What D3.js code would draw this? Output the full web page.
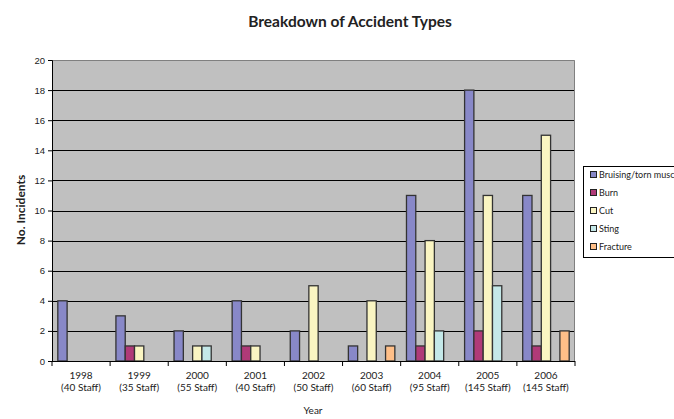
<!DOCTYPE html>
<html>
<head>
<meta charset="utf-8">
<script src="https://cdn.jsdelivr.net/npm/d3@7"></script>
<style>
  body { margin: 0; background: #fff; }
  svg { display: block; font-family: Lato, "Open Sans", sans-serif; }
</style>
</head>
<body>
<div id="chart"></div>
<script>
// chart values
const years = ['1998', '1999', '2000', '2001', '2002', '2003', '2004', '2005', '2006'];
const staff = ['(40 Staff)', '(35 Staff)', '(55 Staff)', '(40 Staff)', '(50 Staff)', '(60 Staff)', '(95 Staff)', '(145 Staff)', '(145 Staff)'];
const seriesNames = ['Bruising/torn muscle', 'Burn', 'Cut', 'Sting', 'Fracture'];
const bruising = [4, 3, 2, 4, 2, 1, 11, 18, 11];
const burn     = [0, 1, 0, 1, 0, 0, 1, 2, 1];
const cut      = [0, 1, 1, 1, 5, 4, 8, 11, 15];
const sting    = [0, 0, 1, 0, 0, 0, 2, 5, 0];
const fracture = [0, 0, 0, 0, 0, 1, 0, 0, 2];
const yTicks = [0, 2, 4, 6, 8, 10, 12, 14, 16, 18, 20];

const seriesValues = [bruising, burn, cut, sting, fracture];
const colors = ['#8888c8', '#b03a78', '#faf5c2', '#c4e8e8', '#ffbf88'];

const W = 674, H = 419;
const plot = { left: 52, right: 575, top: 60, bottom: 361 };

const svg = d3.select('#chart').append('svg')
  .attr('width', W).attr('height', H);

const x0 = d3.scaleBand()
  .domain(years)
  .range([plot.left, plot.right]);

// Excel style: gap = 125% of a bar width
const nBars = seriesNames.length;
const barW = x0.bandwidth() / (nBars + 1.25);
const x1 = d3.scaleBand()
  .domain(seriesNames)
  .range([barW * 0.625, barW * 0.625 + barW * nBars]);

const y = d3.scaleLinear().domain([0, 20]).range([plot.bottom, plot.top]);

// plot background
svg.append('rect')
  .attr('x', plot.left).attr('y', plot.top)
  .attr('width', plot.right - plot.left).attr('height', plot.bottom - plot.top)
  .attr('fill', '#c0c0c0');

// gridlines
svg.append('g')
  .selectAll('line')
  .data(yTicks.filter(d => d > 0 && d < 20))
  .join('line')
  .attr('x1', plot.left).attr('x2', plot.right)
  .attr('y1', d => Math.round(y(d)) + 0.5).attr('y2', d => Math.round(y(d)) + 0.5)
  .attr('stroke', '#000').attr('stroke-width', 1);

// top and right border
svg.append('path')
  .attr('d', `M${plot.left},${plot.top + 0.5}H${plot.right - 0.5}V${plot.bottom}`)
  .attr('fill', 'none').attr('stroke', '#808080').attr('stroke-width', 1);

// bars
const data = [];
years.forEach((yr, i) => {
  seriesNames.forEach((s, j) => {
    data.push({ year: yr, series: s, value: seriesValues[j][i], color: colors[j] });
  });
});

svg.append('g')
  .selectAll('rect')
  .data(data.filter(d => d.value > 0))
  .join('rect')
  .attr('x', d => x0(d.year) + x1(d.series))
  .attr('y', d => y(d.value))
  .attr('width', x1.bandwidth())
  .attr('height', d => y(0) - y(d.value))
  .attr('fill', d => d.color)
  .attr('stroke', '#333')
  .attr('stroke-width', 1.3);

// y axis
const yAxis = svg.append('g')
  .attr('transform', `translate(${plot.left},0)`)
  .call(d3.axisLeft(y).tickValues(yTicks).tickSize(4).tickPadding(3));
yAxis.select('.domain').attr('stroke', '#000');
yAxis.selectAll('.tick line').attr('stroke', '#000');
yAxis.selectAll('text').attr('font-size', 9.5).attr('fill', '#222');

// x axis
const xAxis = svg.append('g')
  .attr('transform', `translate(0,${plot.bottom})`);
xAxis.append('line')
  .attr('x1', plot.left - 4).attr('x2', plot.right)
  .attr('y1', 0.5).attr('y2', 0.5)
  .attr('stroke', '#000');
xAxis.selectAll('.tk')
  .data(years.concat(['end']))
  .join('line')
  .attr('class', 'tk')
  .attr('x1', d => d === 'end' ? plot.right : x0(d))
  .attr('x2', d => d === 'end' ? plot.right : x0(d))
  .attr('y1', 0).attr('y2', 5)
  .attr('stroke', '#000');
const xl = xAxis.selectAll('.lbl')
  .data(years)
  .join('text')
  .attr('class', 'lbl')
  .attr('x', d => x0(d) + x0.bandwidth() / 2)
  .attr('text-anchor', 'middle')
  .attr('font-size', 10)
  .attr('fill', '#222');
xl.append('tspan').attr('x', d => x0(d) + x0.bandwidth() / 2).attr('y', 18).text(d => d);
xl.append('tspan').attr('x', d => x0(d) + x0.bandwidth() / 2).attr('y', 30).text((d, i) => staff[i]);

// titles
svg.append('text')
  .attr('x', 350).attr('y', 27)
  .attr('text-anchor', 'middle')
  .attr('font-size', 15.5).attr('font-weight', 'bold')
  .attr('fill', '#222')
  .text('Breakdown of Accident Types');

svg.append('text')
  .attr('transform', 'translate(25,210) rotate(-90)')
  .attr('text-anchor', 'middle')
  .attr('font-size', 12).attr('font-weight', 'bold')
  .attr('fill', '#222')
  .text('No. Incidents');

svg.append('text')
  .attr('x', 313).attr('y', 414)
  .attr('text-anchor', 'middle')
  .attr('font-size', 10)
  .attr('fill', '#222')
  .text('Year');

// legend (box runs past the right edge, as in the original)
const legend = svg.append('g');
legend.append('rect')
  .attr('x', 583.5).attr('y', 166.5)
  .attr('width', 120).attr('height', 91)
  .attr('fill', '#fff').attr('stroke', '#000');
const li = legend.selectAll('g.item')
  .data(seriesNames)
  .join('g')
  .attr('class', 'item')
  .attr('transform', (d, i) => `translate(590,${175 + i * 18})`);
li.append('rect')
  .attr('x', 0.5).attr('y', -3.5)
  .attr('width', 6).attr('height', 6)
  .attr('fill', (d, i) => colors[i])
  .attr('stroke', '#222');
li.append('text')
  .attr('x', 9).attr('y', 3)
  .attr('font-size', 9)
  .attr('fill', '#222')
  .text(d => d);
</script>
</body>
</html>
